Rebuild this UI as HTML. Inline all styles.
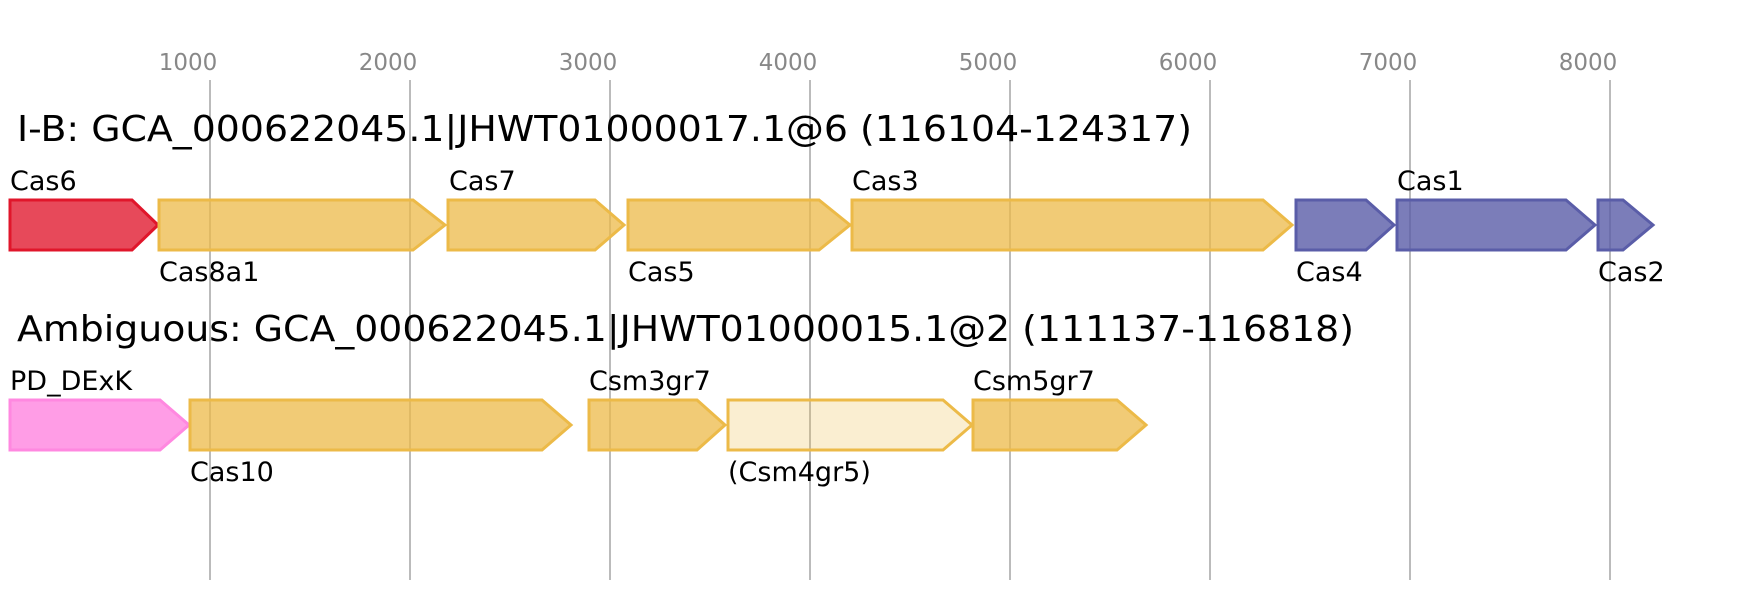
<!DOCTYPE html>
<html><head><meta charset="utf-8"><style>
html,body{margin:0;padding:0;background:#fff;}
svg{display:block;}
text{font-family:"DejaVu Sans","Liberation Sans",sans-serif;}
</style></head><body>
<svg width="1743" height="600" viewBox="0 0 1743 600" xmlns="http://www.w3.org/2000/svg">
<g stroke="#bbb" stroke-width="2">
<line x1="210" y1="80" x2="210" y2="580"/><line x1="410" y1="80" x2="410" y2="580"/>
<line x1="610" y1="80" x2="610" y2="580"/><line x1="810" y1="80" x2="810" y2="580"/>
<line x1="1010" y1="80" x2="1010" y2="580"/><line x1="1210" y1="80" x2="1210" y2="580"/>
<line x1="1410" y1="80" x2="1410" y2="580"/><line x1="1610" y1="80" x2="1610" y2="580"/>
</g>
<g fill="#888" font-size="23" text-anchor="middle">
<text x="188" y="70">1000</text><text x="388" y="70">2000</text><text x="588" y="70">3000</text>
<text x="788" y="70">4000</text><text x="988" y="70">5000</text><text x="1188" y="70">6000</text>
<text x="1388" y="70">7000</text><text x="1588" y="70">8000</text>
</g>
<text x="17" y="141" font-size="36" textLength="1175" lengthAdjust="spacingAndGlyphs">I-B: GCA_000622045.1|JHWT01000017.1@6 (116104-124317)</text>
<text x="17" y="341" font-size="36" textLength="1337" lengthAdjust="spacingAndGlyphs">Ambiguous: GCA_000622045.1|JHWT01000015.1@2 (111137-116818)</text>
<g stroke-width="3" stroke-linejoin="miter">
<polygon points="10,200 132,200 158,225 132,250 10,250" fill="rgba(224,22,43,0.78)" stroke="#e0162b"/>
<polygon points="159,200 413,200 445,225 413,250 159,250" fill="rgba(236,186,72,0.75)" stroke="#ecba48"/>
<polygon points="448,200 595,200 624,225 595,250 448,250" fill="rgba(236,186,72,0.75)" stroke="#ecba48"/>
<polygon points="628,200 819,200 850,225 819,250 628,250" fill="rgba(236,186,72,0.75)" stroke="#ecba48"/>
<polygon points="852,200 1263,200 1292,225 1263,250 852,250" fill="rgba(236,186,72,0.75)" stroke="#ecba48"/>
<polygon points="1296,200 1366,200 1394,225 1366,250 1296,250" fill="rgba(90,93,168,0.8)" stroke="#5a5da8"/>
<polygon points="1397,200 1566,200 1595,225 1566,250 1397,250" fill="rgba(90,93,168,0.8)" stroke="#5a5da8"/>
<polygon points="1598,200 1623,200 1653,225 1623,250 1598,250" fill="rgba(90,93,168,0.8)" stroke="#5a5da8"/>
<polygon points="10,400 160,400 189,425 160,450 10,450" fill="rgba(255,133,224,0.8)" stroke="#ff88e0"/>
<polygon points="190,400 542,400 571,425 542,450 190,450" fill="rgba(236,186,72,0.75)" stroke="#ecba48"/>
<polygon points="589,400 697,400 725,425 697,450 589,450" fill="rgba(236,186,72,0.75)" stroke="#ecba48"/>
<polygon points="728,400 943,400 972,425 943,450 728,450" fill="rgba(236,186,72,0.25)" stroke="#ecba48"/>
<polygon points="973,400 1117,400 1146,425 1117,450 973,450" fill="rgba(236,186,72,0.75)" stroke="#ecba48"/>
</g>
<g fill="#000" font-size="27">
<text x="10" y="190">Cas6</text><text x="159" y="281">Cas8a1</text>
<text x="449" y="190">Cas7</text><text x="628" y="281">Cas5</text>
<text x="852" y="190">Cas3</text><text x="1296" y="281">Cas4</text>
<text x="1397" y="190">Cas1</text><text x="1598" y="281">Cas2</text>
<text x="10" y="390">PD_DExK</text><text x="190" y="481">Cas10</text>
<text x="589" y="390">Csm3gr7</text><text x="728" y="481">(Csm4gr5)</text>
<text x="973" y="390">Csm5gr7</text>
</g>
</svg>
</body></html>
